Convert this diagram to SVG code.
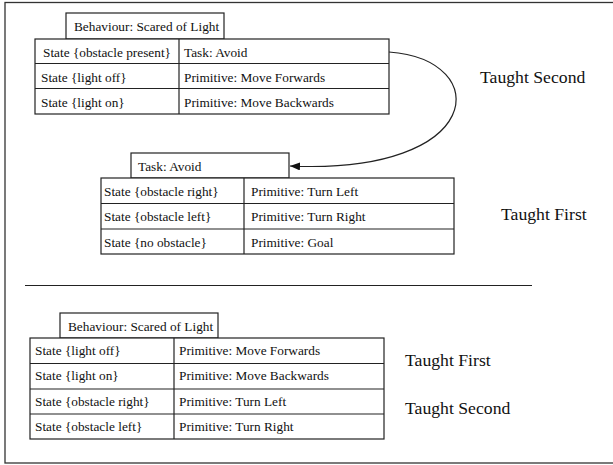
<svg xmlns="http://www.w3.org/2000/svg" width="613" height="465" viewBox="0 0 613 465">
<style>
.box{fill:#fff;stroke:#222;stroke-width:1.2}
.ln{stroke:#222;stroke-width:1.2;fill:none}
text{font-family:'Liberation Serif','DejaVu Serif',serif;fill:#111}
.t{font-size:13.3px}
.big{font-size:17.7px}
</style>
<defs>
<marker id="ah" viewBox="0 0 10 8" refX="10" refY="4" markerWidth="10" markerHeight="8" markerUnits="userSpaceOnUse" orient="auto">
<path d="M0,0 L10,4 L0,8 z" fill="#111"/>
</marker>
</defs>
<rect x="5" y="2.5" width="620" height="460.5" fill="#fff" stroke="#333" stroke-width="1.3"/>

<g id="table1" font-family="Liberation Serif, DejaVu Serif, serif">
<rect class="box" x="66" y="13" width="158" height="26"/>
<text class="t" x="74" y="31">Behaviour: Scared of Light</text>
<rect class="box" x="35" y="39" width="354" height="75"/>
<line class="ln" x1="35" y1="63.5" x2="389" y2="63.5"/>
<line class="ln" x1="35" y1="88.5" x2="389" y2="88.5"/>
<line class="ln" x1="179" y1="39" x2="179" y2="114"/>
<text class="t" x="43" y="57">State {obstacle present}</text>
<text class="t" x="184" y="57">Task: Avoid</text>
<text class="t" x="41" y="82">State {light off}</text>
<text class="t" x="184" y="82">Primitive: Move Forwards</text>
<text class="t" x="41" y="107">State {light on}</text>
<text class="t" x="184" y="107">Primitive: Move Backwards</text>
</g>
<text id="taught-second-1" class="big" x="480" y="83">Taught Second</text>

<g id="table2">
<rect class="box" x="131" y="153" width="158" height="25"/>
<text class="t" x="138" y="171">Task: Avoid</text>
<rect class="box" x="101" y="178" width="353" height="76"/>
<line class="ln" x1="101" y1="203.5" x2="454" y2="203.5"/>
<line class="ln" x1="101" y1="229" x2="454" y2="229"/>
<line class="ln" x1="244" y1="178" x2="244" y2="254"/>
<text class="t" x="104" y="196">State {obstacle right}</text>
<text class="t" x="251" y="196">Primitive: Turn Left</text>
<text class="t" x="104" y="221">State {obstacle left}</text>
<text class="t" x="251" y="221">Primitive: Turn Right</text>
<text class="t" x="104" y="247">State {no obstacle}</text>
<text class="t" x="251" y="247">Primitive: Goal</text>
</g>
<text id="taught-first-1" class="big" x="501" y="220">Taught First</text>

<g id="connectors">
<path class="ln" d="M389,52 C495,60 485,175 290,166" marker-end="url(#ah)"/>
<line class="ln" x1="25" y1="285.5" x2="532" y2="285.5"/>
</g>

<g id="table3">
<rect class="box" x="60" y="313" width="158" height="25"/>
<text class="t" x="68" y="331">Behaviour: Scared of Light</text>
<rect class="box" x="30" y="338" width="354" height="101"/>
<line class="ln" x1="30" y1="363.5" x2="384" y2="363.5"/>
<line class="ln" x1="30" y1="389" x2="384" y2="389"/>
<line class="ln" x1="30" y1="414" x2="384" y2="414"/>
<line class="ln" x1="174" y1="338" x2="174" y2="439"/>
<text class="t" x="35" y="355">State {light off}</text>
<text class="t" x="179" y="355">Primitive: Move Forwards</text>
<text class="t" x="35" y="380">State {light on}</text>
<text class="t" x="179" y="380">Primitive: Move Backwards</text>
<text class="t" x="35" y="406">State {obstacle right}</text>
<text class="t" x="179" y="406">Primitive: Turn Left</text>
<text class="t" x="35" y="431">State {obstacle left}</text>
<text class="t" x="179" y="431">Primitive: Turn Right</text>
</g>
<text id="taught-first-2" class="big" x="405" y="366">Taught First</text>
<text id="taught-second-2" class="big" x="405" y="414">Taught Second</text>
</svg>
